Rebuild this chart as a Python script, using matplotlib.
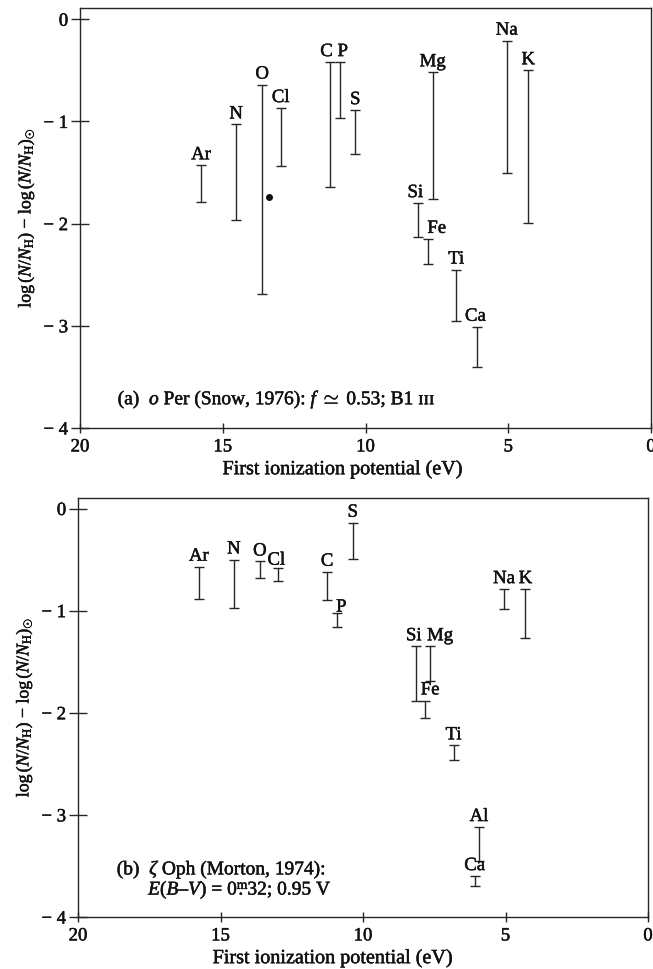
import matplotlib
matplotlib.use("Agg")
import matplotlib.pyplot as plt
import matplotlib.patheffects as pe
from matplotlib.ticker import FixedLocator, FuncFormatter

plt.rcParams['font.family'] = ['Liberation Serif', 'DejaVu Serif']
plt.rcParams['mathtext.fontset'] = 'custom'
plt.rcParams['mathtext.rm'] = 'Liberation Serif'
plt.rcParams['mathtext.it'] = 'Liberation Serif:italic'
plt.rcParams['mathtext.bf'] = 'Liberation Serif:bold'

# ---------------- data ----------------
# first ionization potentials (eV), as plotted
ip = {'Ar': 15.76, 'N': 14.53, 'O': 13.62, 'Cl': 12.97, 'C': 11.26, 'P': 10.90,
      'S': 10.36, 'Si': 8.15, 'Mg': 7.65, 'Fe': 7.82, 'Ti': 6.82, 'Ca': 6.08,
      'Na': 5.05, 'K': 4.30, 'Al': 5.93}

# panel (a): o Per
elements_a = ['Ar', 'N', 'O', 'Cl', 'C', 'P', 'S', 'Si', 'Mg', 'Fe', 'Ti', 'Ca', 'Na', 'K']
upper_a = [-1.43, -1.03, -0.64, -0.87, -0.42, -0.42, -0.89, -1.80, -0.52, -2.15, -2.45, -3.01, -0.21, -0.50]
lower_a = [-1.79, -1.96, -2.69, -1.44, -1.64, -0.97, -1.32, -2.13, -1.76, -2.40, -2.95, -3.40, -1.50, -1.99]
point_a_x = [13.39]
point_a_y = [-1.74]

# panel (b): zeta Oph
elements_b = ['Ar', 'N', 'O', 'Cl', 'C', 'P', 'S', 'Si', 'Mg', 'Fe', 'Ti', 'Al', 'Ca', 'Na', 'K']
upper_b = [-0.57, -0.50, -0.51, -0.58, -0.62, -1.02, -0.14, -1.35, -1.35, -1.88, -2.32, -3.12, -3.60, -0.79, -0.79]
lower_b = [-0.89, -0.97, -0.68, -0.71, -0.90, -1.16, -0.49, -1.88, -1.69, -2.05, -2.46, -3.45, -3.70, -0.98, -1.27]

x_ticks = [20, 15, 10, 5, 0]
y_ticks = [0, -1, -2, -3, -4]

# label offsets in pixels (styling only)
offs_a = {'Fe': (9, 0), 'C': (-3, 0), 'P': (3, 0), 'Si': (-3, 0), 'Ca': (-2, 0)}
offs_b = {'P': (4, -5), 'Fe': (5, 0), 'Mg': (10, 0), 'Si': (-2, 0), 'Cl': (-2, -3), 'O': (0, -1)}

INK = '#262626'
TXT = '#111111'
BOLDEN = [pe.withStroke(linewidth=0.35, foreground=TXT)]

fig = plt.figure(figsize=(6.53, 9.69), dpi=100)
ax_a = fig.add_axes([80 / 653, 1 - 428 / 969, 571 / 653, 420 / 969])
ax_b = fig.add_axes([78 / 653, 1 - 917 / 969, 570 / 653, 419 / 969])


def yfmt(v, pos):
    if v == 0:
        return '0'
    return '\u2212 %d' % abs(v)


def draw(ax, elements, upper, lower, offs, ymax, xlab_x):
    xs = [ip[e] for e in elements]
    mids = [(u + l) / 2 for u, l in zip(upper, lower)]
    errs = [(u - l) / 2 for u, l in zip(upper, lower)]
    ax.errorbar(xs, mids, yerr=errs, fmt='none', ecolor=INK, elinewidth=1.0,
                capsize=3.6, capthick=1.0)
    for e, x, u in zip(elements, xs, upper):
        dx, dy = offs.get(e, (0, 0))
        ax.annotate(e, (x, u), xytext=(dx * 0.72, 1.5 + dy * 0.72), textcoords='offset points',
                    ha='center', va='bottom', fontsize=13.5, color=TXT, path_effects=BOLDEN)
    ax.set_xlim(20, 0)
    ax.set_ylim(-4, ymax)
    ax.xaxis.set_major_locator(FixedLocator(x_ticks))
    ax.yaxis.set_major_locator(FixedLocator(y_ticks))
    ax.yaxis.set_major_formatter(FuncFormatter(yfmt))
    ax.tick_params(axis='x', direction='inout', length=7, width=1.0, colors=INK,
                   labelsize=13.5, labelcolor=TXT, pad=4)
    ax.tick_params(axis='y', direction='inout', length=13, width=1.0, colors=INK,
                   labelsize=13.5, labelcolor=TXT, pad=2)
    for lab in ax.get_xticklabels() + ax.get_yticklabels():
        lab.set_path_effects(BOLDEN)
    for s in ax.spines.values():
        s.set_color(INK)
        s.set_linewidth(1.0)
    ax.set_xlabel('First ionization potential (eV)', fontsize=14.5, color=TXT, labelpad=2,
                  path_effects=BOLDEN)
    ax.xaxis.set_label_coords(xlab_x, -0.075)
    ax.set_ylabel(r'log$\,(N/N_{\rm H})$ $-$ log$\,(N/N_{\rm H})_{\odot}$',
                  fontsize=12.8, color=TXT, labelpad=5, path_effects=BOLDEN)


draw(ax_a, elements_a, upper_a, lower_a, offs_a, 0.11, 0.459)
ax_a.plot(point_a_x, point_a_y, 'o', color=TXT, markersize=4)
ax_a.text(0.066, 0.067, r'(a)  $o$ Per (Snow, 1976): $f$ $\simeq$ 0.53; B1 ɪɪɪ',
          transform=ax_a.transAxes, fontsize=14, va='center', ha='left', color=TXT,
          path_effects=BOLDEN)

draw(ax_b, elements_b, upper_b, lower_b, offs_b, 0.103, 0.446)
ax_b.text(0.068, 0.112, r'(b)  $\zeta$ Oph (Morton, 1974):',
          transform=ax_b.transAxes, fontsize=14, va='center', ha='left', color=TXT,
          path_effects=BOLDEN)
ax_b.text(0.123, 0.064, r'$E(B$–$V)$ = 0$\overset{\rm m}{.}$32; 0.95 V',
          transform=ax_b.transAxes, fontsize=14, va='center', ha='left', color=TXT,
          path_effects=BOLDEN)

fig.savefig('out.png', dpi=100)
